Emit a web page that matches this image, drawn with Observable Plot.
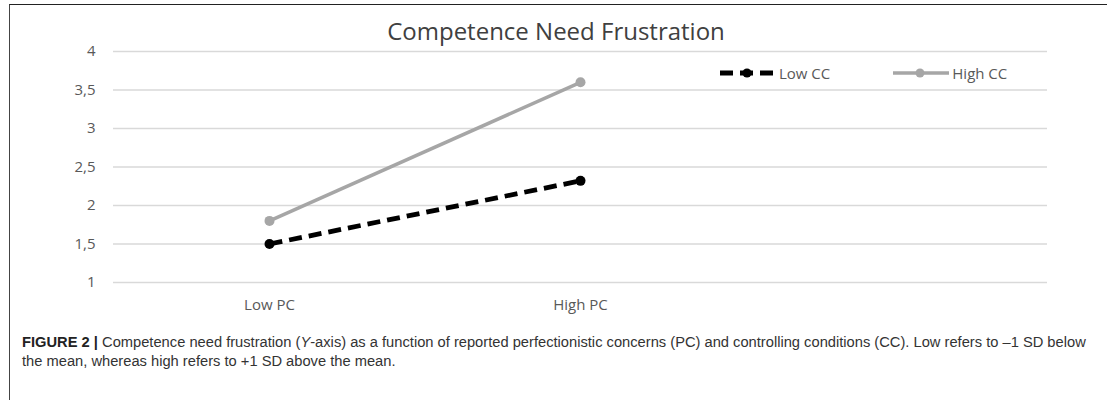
<!DOCTYPE html>
<html>
<head>
<meta charset="utf-8">
<script src="https://cdn.jsdelivr.net/npm/d3@7"></script>
<script src="https://cdn.jsdelivr.net/npm/@observablehq/plot@0.6"></script>
<style>
  html, body { margin: 0; padding: 0; background: #fff; }
  #wrap { position: relative; width: 1107px; height: 400px; overflow: hidden; }
  #frame { position: absolute; left: 9px; top: 4px; width: 1100px; height: 400px;
           border-top: 1.5px solid #222; border-left: 1.5px solid #444; box-sizing: border-box; }
  #title { position: absolute; top: 14px; left: 0; width: 1112px; text-align: center;
           font-family: "Open Sans", sans-serif; font-size: 24px; color: #404040; }
  #chart { position: absolute; left: 0; top: 0; }
  #legend { position: absolute; top: 63px; left: 719px; font-family: "Open Sans", sans-serif;
            font-size: 15px; color: #595959; display: flex; align-items: center; height: 20px; }
  #legend .item { display: flex; align-items: center; }
  #caption { position: absolute; left: 22px; top: 333px; width: 1074px;
             font-family: "Liberation Sans", Arial, sans-serif; font-size: 14.7px; line-height: 19px; color: #333; }
  #caption b { color: #222; }
</style>
</head>
<body>
<div id="wrap">
  <div id="frame"></div>
  <div id="chart"></div>
  <div id="title">Competence Need Frustration</div>
  <div id="legend"></div>
  <div id="caption"><b>FIGURE 2 |</b> Competence need frustration (<i>Y</i>-axis) as a function of reported perfectionistic concerns (PC) and controlling conditions (CC). Low refers to –1 SD below the mean, whereas high refers to +1 SD above the mean.</div>
</div>
<script>
const categories = ["Low PC", "High PC", ""];
const seriesNames = ["Low CC", "High CC"];
const lowCC = [1.5, 2.32];
const highCC = [1.8, 3.6];
const yTicks = [1, 1.5, 2, 2.5, 3, 3.5, 4];

const colors = {"Low CC": "#000000", "High CC": "#a6a6a6"};
const dashes = {"Low CC": "13,7", "High CC": null};

const rows = [];
[lowCC, highCC].forEach((vals, si) => {
  vals.forEach((v, i) => rows.push({series: seriesNames[si], cat: categories[i], value: v}));
});

const fmt = d => String(d).replace(".", ",");

const plot = Plot.plot({
  width: 1107,
  height: 320,
  marginLeft: 113,
  marginRight: 60,
  marginTop: 51,
  marginBottom: 38,
  style: {fontFamily: "'Open Sans', sans-serif", fontSize: "15px", color: "#595959", background: "transparent"},
  x: {type: "point", domain: categories, padding: 0.5, label: null, tickSize: 0, tickPadding: 17,
      tickFormat: d => d},
  y: {domain: [1, 4], ticks: yTicks, tickFormat: fmt, label: null, tickSize: 0, tickPadding: 18},
  marks: [
    Plot.gridY(yTicks, {stroke: "#d9d9d9", strokeOpacity: 1, strokeWidth: 1.3}),
    ...seriesNames.map(s => Plot.line(rows.filter(r => r.series === s), {
      x: "cat", y: "value", stroke: colors[s], strokeWidth: s === "Low CC" ? 4.8 : 3.5,
      strokeDasharray: dashes[s], strokeLinecap: "butt"
    })),
    ...seriesNames.map(s => Plot.dot(rows.filter(r => r.series === s), {
      x: "cat", y: "value", fill: colors[s], r: 5
    }))
  ]
});
document.getElementById("chart").appendChild(plot);

// legend
const legend = document.getElementById("legend");
seriesNames.forEach((s, i) => {
  const item = document.createElement("div");
  item.className = "item";
  if (i > 0) item.style.marginLeft = "62px";
  const ns = "http://www.w3.org/2000/svg";
  const sw = document.createElementNS(ns, "svg");
  sw.setAttribute("width", 57); sw.setAttribute("height", 16);
  const ln = document.createElementNS(ns, "line");
  ln.setAttribute("x1", 1); ln.setAttribute("x2", 57); ln.setAttribute("y1", 8); ln.setAttribute("y2", 8);
  ln.setAttribute("stroke", colors[s]);
  ln.setAttribute("stroke-width", s === "Low CC" ? 4.8 : 3.5);
  if (dashes[s]) ln.setAttribute("stroke-dasharray", "13,7");
  sw.appendChild(ln);
  const c = document.createElementNS(ns, "circle");
  c.setAttribute("cx", 28); c.setAttribute("cy", 8); c.setAttribute("r", 4.5);
  c.setAttribute("fill", colors[s]);
  sw.appendChild(c);
  item.appendChild(sw);
  const t = document.createElement("span");
  t.textContent = s;
  t.style.marginLeft = "3px";
  item.appendChild(t);
  legend.appendChild(item);
});
</script>
</body>
</html>
